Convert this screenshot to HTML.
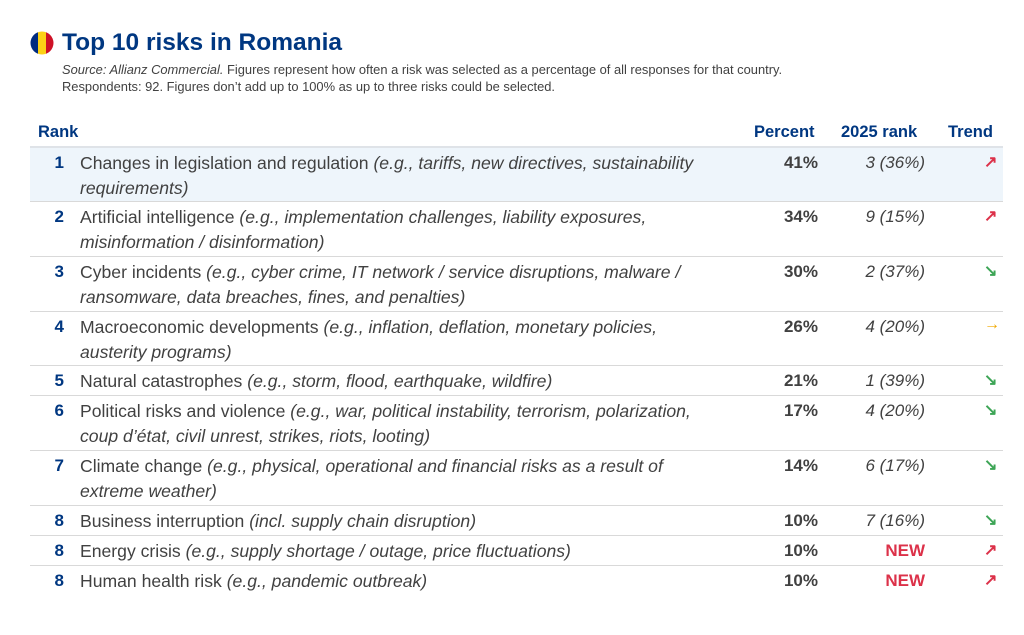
<!DOCTYPE html><html><head><meta charset="utf-8"><style>
body{margin:0;width:1024px;height:635px;background:#fff;font-family:"Liberation Sans",sans-serif;position:relative;overflow:hidden;color:#414141}
.a{position:absolute;white-space:nowrap}
.t{font-size:24.5px;font-weight:bold;color:#003781;left:62px;top:29px}
.s{font-size:12.9px;color:#414141;left:62px;line-height:17px}
.h{font-size:16.5px;font-weight:bold;color:#003781;top:123px}
.row{position:absolute;left:30px;width:973px;border-bottom:1px solid #d9d9d9}
.n{position:absolute;right:939px;font-weight:bold;color:#003781;font-size:17px}
.x{position:absolute;left:50px;font-size:17.6px;line-height:24.5px;white-space:nowrap}
.p{position:absolute;right:185px;font-weight:bold;font-size:17px}
.r{position:absolute;right:78px;font-style:italic;font-size:17px}
.new{font-style:normal;font-weight:bold;color:#dc3149}
.tr{position:absolute;left:954px;font-size:16px;font-weight:bold}
i{font-style:italic}
</style></head><body>
<svg class="a" style="left:30px;top:31px" width="24" height="24"><defs><clipPath id="c"><circle cx="12" cy="12" r="11.5"/></clipPath></defs><g clip-path="url(#c)"><rect x="0" y="0" width="8" height="24" fill="#002b7f"/><rect x="8" y="0" width="8" height="24" fill="#fcd116"/><rect x="16" y="0" width="8" height="24" fill="#ce1126"/></g></svg>
<div class="a t">Top 10 risks in Romania</div>
<div class="a s" style="top:61px"><i>Source: Allianz Commercial.</i> Figures represent how often a risk was selected as a percentage of all responses for that country.</div>
<div class="a s" style="top:78px">Respondents: 92. Figures don’t add up to 100% as up to three risks could be selected.</div>
<div class="a h" style="left:38px">Rank</div>
<div class="a h" style="left:754px">Percent</div>
<div class="a h" style="left:841px">2025 rank</div>
<div class="a h" style="left:948px">Trend</div>
<div class="a" style="left:30px;top:146px;width:973px;height:2px;background:#dfe3e8"></div>
<div id="rows"></div>
<script>
var d=[
[148,54,"1","Changes in legislation and regulation <i>(e.g., tariffs, new directives, sustainability<br>requirements)</i>","41%","3 (36%)","↗","#dc3149"],
[202,55,"2","Artificial intelligence <i>(e.g., implementation challenges, liability exposures,<br>misinformation / disinformation)</i>","34%","9 (15%)","↗","#dc3149"],
[257,55,"3","Cyber incidents <i>(e.g., cyber crime, IT network / service disruptions, malware /<br>ransomware, data breaches, fines, and penalties)</i>","30%","2 (37%)","↘","#3da556"],
[312,54,"4","Macroeconomic developments <i>(e.g., inflation, deflation, monetary policies,<br>austerity programs)</i>","26%","4 (20%)","→","#f0a800"],
[366,30,"5","Natural catastrophes <i>(e.g., storm, flood, earthquake, wildfire)</i>","21%","1 (39%)","↘","#3da556"],
[396,55,"6","Political risks and violence <i>(e.g., war, political instability, terrorism, polarization,<br>coup d’état, civil unrest, strikes, riots, looting)</i>","17%","4 (20%)","↘","#3da556"],
[451,55,"7","Climate change <i>(e.g., physical, operational and financial risks as a result of<br>extreme weather)</i>","14%","6 (17%)","↘","#3da556"],
[506,30,"8","Business interruption <i>(incl. supply chain disruption)</i>","10%","7 (16%)","↘","#3da556"],
[536,30,"8","Energy crisis <i>(e.g., supply shortage / outage, price fluctuations)</i>","10%","NEW","↗","#dc3149"],
[566,30,"8","Human health risk <i>(e.g., pandemic outbreak)</i>","10%","NEW","↗","#dc3149"]];
var h="";d.forEach(function(r,k){h+='<div class="row" style="top:'+r[0]+'px;height:'+(r[1]-1)+'px;'+(k==0?'background:#eef5fb;':'')+(k==9?'border-bottom:none;':'')+'">'+
'<div class="n" style="top:5px">'+r[2]+'</div><div class="x" style="top:3px">'+r[3]+'</div><div class="p" style="top:5px">'+r[4]+'</div><div class="r'+(r[5]=="NEW"?' new':'')+'" style="top:5px">'+r[5]+'</div><div class="tr" style="top:4px;color:'+r[7]+'">'+r[6]+'</div></div>'});
document.getElementById("rows").innerHTML=h;
</script>
</body></html>
